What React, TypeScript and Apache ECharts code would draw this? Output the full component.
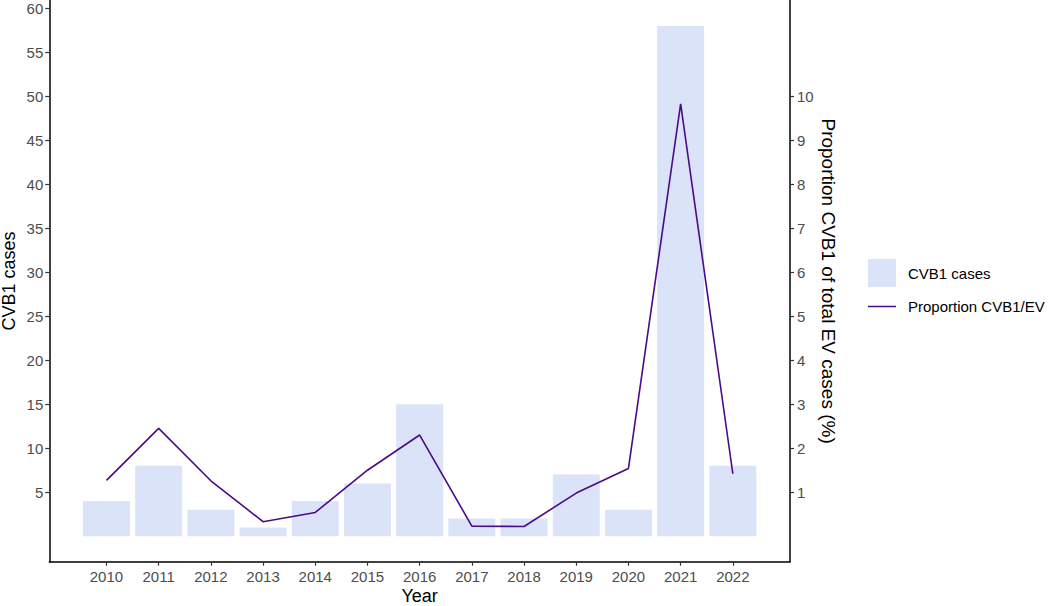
import React, { useEffect, useRef } from "react";
import * as echarts from "echarts";

const years = [2010, 2011, 2012, 2013, 2014, 2015, 2016, 2017, 2018, 2019, 2020, 2021, 2022];
const cases = [4, 8, 3, 1, 4, 6, 15, 2, 2, 7, 3, 58, 8];
const proportion = [1.27, 2.45, 1.26, 0.33, 0.54, 1.5, 2.3, 0.23, 0.22, 0.98, 1.54, 9.83, 1.42];
const leftTicks = [5, 10, 15, 20, 25, 30, 35, 40, 45, 50, 55, 60];
const rightTicks = [1, 2, 3, 4, 5, 6, 7, 8, 9, 10];

const FONT = "'Liberation Sans', Arial, Helvetica, sans-serif";
const BAR_COLOR = "#dbe3f9";
const LINE_COLOR = "#4b0a87";

export default function App() {
  const ref = useRef<HTMLDivElement>(null);
  useEffect(() => {
    if (!ref.current) return;
    const chart = echarts.init(ref.current, undefined, { renderer: "svg" });
    const axisLabelBase = { color: "#4d4d4d", fontSize: 15, fontFamily: FONT };
    const nameBase = { color: "#000", fontSize: 18, lineHeight: 18, fontFamily: FONT };
    chart.setOption({
      animation: false,
      textStyle: { fontFamily: FONT },
      grid: {
        left: 49.3,
        right: 263,
        top: 0.5,
        bottom: 44.3,
        containLabel: false,
        outerBoundsMode: "none",
      },
      legend: {
        orient: "vertical",
        left: 868,
        top: 259,
        padding: 0,
        itemWidth: 28,
        itemHeight: 28,
        itemGap: 12,
        selectedMode: false,
        textStyle: { color: "#000", fontSize: 15, fontFamily: FONT, padding: [0, 0, 0, 7] },
        data: [
          { name: "CVB1 cases", icon: "rect" },
          { name: "Proportion CVB1/EV", icon: "path://M0,0H28V1.5H0Z" },
        ],
      },
      xAxis: {
        type: "value",
        min: 2008.905,
        max: 2023.095,
        name: "Year",
        nameLocation: "middle",
        nameGap: 25,
        nameMoveOverlap: false,
        nameTextStyle: nameBase,
        axisLine: { show: true, onZero: false, lineStyle: { color: "#000", width: 1.5 } },
        axisTick: { show: true, length: 4, customValues: years, lineStyle: { color: "#333", width: 1.2 } },
        axisLabel: { ...axisLabelBase, margin: 7, customValues: years, formatter: (v: number) => String(v) },
        splitLine: { show: false },
      },
      yAxis: [
        {
          type: "value",
          position: "left",
          min: -2.9,
          max: 60.9,
          name: "CVB1 cases",
          nameLocation: "middle",
          nameGap: 31,
          nameMoveOverlap: false,
          nameRotate: 90,
          nameTextStyle: nameBase,
          axisLine: { show: true, onZero: false, lineStyle: { color: "#000", width: 1.5 } },
          axisTick: { show: true, length: 4, customValues: leftTicks, lineStyle: { color: "#333", width: 1.2 } },
          axisLabel: { ...axisLabelBase, margin: 6, customValues: leftTicks },
          splitLine: { show: false },
        },
        {
          type: "value",
          position: "right",
          min: -0.58,
          max: 12.18,
          name: "Proportion CVB1 of total EV cases (%)",
          nameLocation: "middle",
          nameGap: 29,
          nameMoveOverlap: false,
          nameRotate: -90,
          nameTextStyle: { ...nameBase, fontSize: 19, lineHeight: 19 },
          axisLine: { show: true, onZero: false, lineStyle: { color: "#000", width: 1.5 } },
          axisTick: { show: true, length: 4, customValues: rightTicks, lineStyle: { color: "#333", width: 1.2 } },
          axisLabel: { ...axisLabelBase, margin: 7, customValues: rightTicks },
          splitLine: { show: false },
        },
      ],
      series: [
        {
          name: "CVB1 cases",
          type: "bar",
          yAxisIndex: 0,
          barWidth: "90%",
          itemStyle: { color: BAR_COLOR },
          data: years.map((y, i) => [y, cases[i]]),
        },
        {
          name: "Proportion CVB1/EV",
          type: "line",
          yAxisIndex: 1,
          symbol: "none",
          showSymbol: false,
          itemStyle: { color: LINE_COLOR },
          lineStyle: { color: LINE_COLOR, width: 1.6 },
          data: years.map((y, i) => [y, proportion[i]]),
        },
      ],
    });
    return () => chart.dispose();
  }, []);
  return (
    <div
      ref={ref}
      style={{ position: "fixed", left: 0, top: 0, width: 1053, height: 606, background: "#fff" }}
    />
  );
}
